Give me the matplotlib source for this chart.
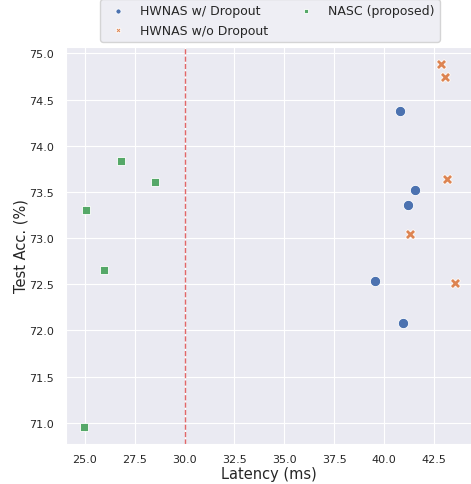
import numpy as np
import matplotlib
matplotlib.use("Agg")
import matplotlib.pyplot as plt
import seaborn as sns

sns.set_style("darkgrid")

# 数据 (latency ms, test acc %)
hw_drop_lat = [40.81, 41.53, 41.18, 39.54, 40.96]
hw_drop_acc = [74.38, 73.52, 73.36, 72.54, 72.08]

hw_nodrop_lat = [42.85, 43.05, 43.18, 41.28, 43.57]
hw_nodrop_acc = [74.89, 74.74, 73.64, 73.04, 72.51]

nasc_lat = [26.79, 28.51, 25.08, 25.94, 24.95]
nasc_acc = [73.84, 73.61, 73.30, 72.65, 70.95]

latency_limit = 30.0

blue, orange, green = sns.color_palette("deep")[:3]

fig = plt.figure(figsize=(4.71, 4.85), dpi=100)
ax = fig.add_axes([0.140, 0.0825, 0.860, 0.8185])

ax.scatter(hw_drop_lat, hw_drop_acc, s=55, marker="o", color=blue,
           edgecolor="white", linewidth=0.6, label="HWNAS w/ Dropout", zorder=3)
ax.scatter(hw_nodrop_lat, hw_nodrop_acc, s=55, marker="X", color=orange,
           edgecolor="white", linewidth=0.6, label="HWNAS w/o Dropout", zorder=3)
ax.scatter(nasc_lat, nasc_acc, s=40, marker="s", color=green,
           edgecolor="white", linewidth=0.6, label="NASC (proposed)", zorder=3)

# 延迟约束
ax.axvline(latency_limit, color="tab:red", linestyle="--", linewidth=1, alpha=0.7)

ax.set_xlim(24.05, 44.36)
ax.set_ylim(70.77, 75.07)
ax.set_xticks(np.arange(25.0, 43.0, 2.5))
ax.set_yticks(np.arange(71.0, 75.01, 0.5))
ax.tick_params(labelsize=8)
ax.tick_params(axis="y", pad=5)
ax.tick_params(axis="x", pad=4)
ax.set_xlabel("Latency (ms)", fontsize=10.5, labelpad=1)
ax.set_ylabel("Test Acc. (%)", fontsize=10.5, labelpad=0.5)

fig.legend(loc="upper center", bbox_to_anchor=(0.573, 1.012), ncol=2,
           fontsize=9, markerscale=0.5, frameon=True, columnspacing=2.0)

plt.savefig("out.png", dpi=100)
plt.close()
